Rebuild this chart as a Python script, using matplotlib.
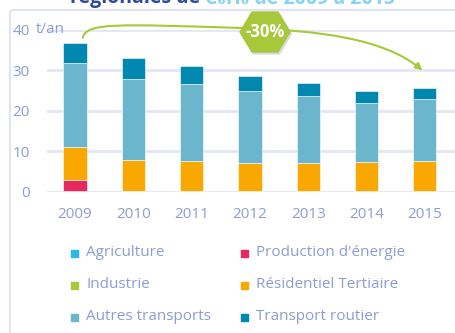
import matplotlib.pyplot as plt
from matplotlib.patches import Rectangle, Polygon, FancyArrowPatch, FancyBboxPatch
from matplotlib.path import Path
import numpy as np

plt.rcParams['font.family'] = ['Open Sans', 'DejaVu Sans']

# Emissions de benzène par secteur (t/an)
annees = ['2009', '2010', '2011', '2012', '2013', '2014', '2015']
secteurs = ['Agriculture', 'Production d\'énergie', 'Industrie',
            'Résidentiel Tertiaire', 'Autres transports', 'Transport routier']
agriculture = [0.2, 0.2, 0.2, 0.2, 0.2, 0.2, 0.2]
production = [2.8, 0.0, 0.0, 0.0, 0.0, 0.0, 0.0]
industrie = [0.0, 0.0, 0.0, 0.0, 0.0, 0.0, 0.0]
residentiel = [8.0, 7.6, 7.4, 6.9, 6.9, 7.2, 7.4]
autres_transports = [20.9, 20.0, 19.1, 17.8, 16.5, 14.4, 15.3]
transport_routier = [4.7, 5.1, 4.3, 3.7, 3.3, 3.1, 2.7]
series = [agriculture, production, industrie, residentiel,
          autres_transports, transport_routier]
couleurs = ['#29b8e8', '#e8295e', '#a6c83a', '#f8a800', '#6cb6cd', '#0088b1']

gris_bleu = '#8c9dd2'
vert = '#a6c83a'

W, H = 455, 333
fig = plt.figure(figsize=(W / 100, H / 100), dpi=100)
fig.patch.set_facecolor('white')

def fx(px):
    return px / W

def fy(py):
    return 1 - py / H

# cadre du graphique
cadre = FancyBboxPatch((fx(10), fy(400)), fx(500), 390 / H,
                       boxstyle='round,pad=0,rounding_size=0.01',
                       transform=fig.transFigure, fill=False,
                       edgecolor='#dfe4f2', lw=1.5)
fig.add_artist(cadre)

ax = fig.add_axes([fx(46.5), fy(191.7), fx(408), (191.7 - 29.7) / H])
x = np.arange(len(annees))
bas = np.zeros(len(annees))
for vals, c in zip(series, couleurs):
    ax.bar(x, vals, width=0.4, bottom=bas, color=c,
           edgecolor='white', linewidth=0.4, zorder=3)
    bas += np.array(vals)

ax.set_xlim(-0.49, 6.51)
ax.set_ylim(0, 40)
ax.set_yticks([0, 10, 20, 30, 40])
ax.set_xticks(x)
ax.set_xticklabels(annees)
ax.grid(axis='y', color='#e3e7f4', lw=2, zorder=0)
ax.set_axisbelow(True)
for s in ax.spines.values():
    s.set_visible(False)
ax.tick_params(length=0, labelsize=11, colors=gris_bleu)
ax.tick_params(axis='y', pad=12)
ax.tick_params(axis='x', pad=11)
fig.text(fx(36), fy(29.7), 't/an', fontsize=11, color=gris_bleu,
         va='center', ha='left')

# flèche d'évolution 2009 -> 2015
verts = [(0.13, 38.0), (0.2, 41.8), (0.7, 41.4), (2.9, 40.4),
         (4.2, 39.8), (5.3, 37.8), (5.96, 30.0)]
codes = [Path.MOVETO] + [Path.CURVE4] * 6
fleche = FancyArrowPatch(path=Path(verts, codes), arrowstyle='-|>',
                         mutation_scale=10, color=vert, lw=1.5,
                         clip_on=False, zorder=5)
ax.add_patch(fleche)

# hexagone -30%
cx, cy = 265, 32
hexa = [(cx - 25, cy), (cx - 13, cy - 20), (cx + 13, cy - 20),
        (cx + 25, cy), (cx + 13, cy + 20), (cx - 13, cy + 20)]
ombre = Polygon([(fx(a + 1.5), fy(b + 2)) for a, b in hexa],
                transform=fig.transFigure, color='#c9cfd8', alpha=0.6, zorder=6)
fig.add_artist(ombre)
fig.add_artist(Polygon([(fx(a), fy(b)) for a, b in hexa],
                       transform=fig.transFigure, color=vert, zorder=7))
fig.text(fx(cx), fy(cy), '-30%', color='white', fontsize=12,
         fontweight='bold', ha='center', va='center', zorder=8)

# titre coupé en haut
t1 = fig.text(fx(70), fy(3.5), 'régionales de ', fontsize=14,
              fontweight='bold', color='#2d4a9c', va='baseline')
fig.canvas.draw()
bb = t1.get_window_extent()
fig.text(bb.x1 / W, fy(3.5), 'C₆H₆ de 2009 à 2015', fontsize=14,
         fontweight='bold', color='#86d3f2', va='baseline')

# légende
lignes = [253, 285, 317]
colonnes = [71, 241]
for i, (nom, c) in enumerate(zip(secteurs, couleurs)):
    col = colonnes[i % 2]
    lig = lignes[i // 2]
    fig.add_artist(Rectangle((fx(col), fy(lig + 3.5)), fx(7), 7 / H,
                             transform=fig.transFigure, color=c))
    fig.text(fx(col + 15), fy(lig), nom, fontsize=11, color=gris_bleu,
             va='center', ha='left')

fig.savefig('out.png', dpi=100)
